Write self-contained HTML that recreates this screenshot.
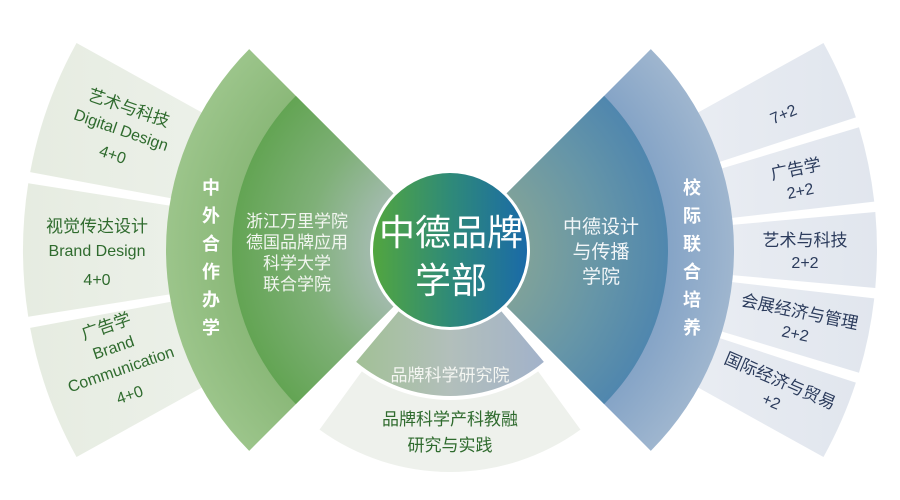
<!DOCTYPE html>
<html><head><meta charset="utf-8"><style>
html,body{margin:0;padding:0;background:#fff;width:900px;height:500px;overflow:hidden}
svg{display:block;font-family:"Liberation Sans","Noto Sans CJK SC",sans-serif}
</style></head><body>
<svg id="s" width="900" height="500" viewBox="0 0 900 500">
<defs>
<radialGradient id="lring" cx="450" cy="250" r="285" gradientUnits="userSpaceOnUse">
<stop offset="0.7" stop-color="#86b574"/><stop offset="1" stop-color="#9cc58b"/></radialGradient>
<radialGradient id="linner" cx="450" cy="250" r="220" gradientUnits="userSpaceOnUse">
<stop offset="0.35" stop-color="#a3bbae"/><stop offset="0.65" stop-color="#7fb078"/><stop offset="1" stop-color="#62a452"/></radialGradient>
<radialGradient id="rring" cx="450" cy="250" r="285" gradientUnits="userSpaceOnUse">
<stop offset="0.7" stop-color="#7e9fc4"/><stop offset="1" stop-color="#9fb6cf"/></radialGradient>
<radialGradient id="rinner" cx="450" cy="250" r="220" gradientUnits="userSpaceOnUse">
<stop offset="0.35" stop-color="#7fa29a"/><stop offset="0.7" stop-color="#6595a8"/><stop offset="1" stop-color="#4f86ae"/></radialGradient>
<linearGradient id="circ" x1="0" y1="0" x2="1" y2="0">
<stop offset="0" stop-color="#52a63f"/><stop offset="0.5" stop-color="#2f8a78"/><stop offset="1" stop-color="#1a6aa8"/></linearGradient>
<linearGradient id="b1" x1="0" y1="0" x2="1" y2="0">
<stop offset="0" stop-color="#a2c096"/><stop offset="0.5" stop-color="#b2bfbb"/><stop offset="1" stop-color="#a2b2ca"/></linearGradient>
<linearGradient id="lband" x1="0" y1="0" x2="1" y2="0">
<stop offset="0" stop-color="#e6ece1"/><stop offset="1" stop-color="#eef2ec"/></linearGradient>
<linearGradient id="rband" x1="0" y1="0" x2="1" y2="0">
<stop offset="0" stop-color="#eceff4"/><stop offset="1" stop-color="#e1e6ee"/></linearGradient>
</defs>
<g id="shapes"></g>

<g font-size="16" fill="#2f6b2e" text-anchor="middle">
<g transform="rotate(19 450 250)">
<text x="100" y="226" font-size="17">艺术与科技</text>
<text x="100" y="249">Digital Design</text>
<text x="100" y="275">4+0</text>
</g>
<g>
<text x="97" y="232" font-size="17">视觉传达设计</text>
<text x="97" y="256">Brand Design</text>
<text x="97" y="285">4+0</text>
</g>
<g transform="rotate(-19 450 250)">
<text x="100" y="216" font-size="17">广告学</text>
<text x="100" y="238">Brand</text>
<text x="100" y="261">Communication</text>
<text x="100" y="288">4+0</text>
</g>
</g>

<g font-size="16" fill="#2b3b5c" text-anchor="middle">
<g transform="rotate(-23.2 450 250)"><text x="810" y="262">7+2</text></g>
<g transform="rotate(-11.6 450 250)"><text x="805" y="246" font-size="17">广告学</text><text x="805" y="268">2+2</text></g>
<g><text x="805" y="246" font-size="17">艺术与科技</text><text x="805" y="268">2+2</text></g>
<g transform="rotate(11.6 450 250)"><text x="805" y="246" font-size="17">会展经济与管理</text><text x="805" y="268">2+2</text></g>
<g transform="rotate(23.2 450 250)"><text x="805" y="246" font-size="17">国际经济与贸易</text><text x="805" y="268">+2</text></g>
</g>

<g fill="#fff" font-weight="bold" font-size="18" text-anchor="middle">
<text x="211" y="194">中</text><text x="211" y="222">外</text><text x="211" y="250">合</text>
<text x="211" y="278">作</text><text x="211" y="306">办</text><text x="211" y="334">学</text>
<text x="692" y="194">校</text><text x="692" y="222">际</text><text x="692" y="250">联</text>
<text x="692" y="278">合</text><text x="692" y="306">培</text><text x="692" y="334">养</text>
</g>

<g fill="#f2f6f0" font-size="17" text-anchor="middle">
<text x="297" y="227">浙江万里学院</text>
<text x="297" y="248">德国品牌应用</text>
<text x="297" y="269">科学大学</text>
<text x="297" y="290">联合学院</text>
</g>
<g fill="#f2f6f8" font-size="19" text-anchor="middle">
<text x="601" y="233">中德设计</text>
<text x="601" y="258">与传播</text>
<text x="601" y="283">学院</text>
</g>
<g fill="#fff" font-size="36" text-anchor="middle">
<text x="451" y="245">中德品牌</text>
<text x="451" y="293">学部</text>
</g>
<g text-anchor="middle" font-size="17">
<text x="450" y="381" fill="#f4f6f2">品牌科学研究院</text>
<text x="450" y="425" fill="#2f6b2e">品牌科学产科教融</text>
<text x="450" y="451" fill="#2f6b2e">研究与实践</text>
</g>
</svg>
<script>
var cx=450,cy=250,g=document.getElementById('shapes');
function P(r,a){a=a*Math.PI/180;return [cx+r*Math.cos(a),cy+r*Math.sin(a)];}
function sec(r0,r1,a0,a1,fill){
 var p1=P(r1,a0),p2=P(r1,a1),d;
 var large=(a1-a0)>180?1:0;
 if(r0<=0){d='M'+cx+','+cy+'L'+p1+'A'+r1+','+r1+' 0 '+large+' 1 '+p2+'Z';}
 else{var p3=P(r0,a1),p4=P(r0,a0);
 d='M'+p4+'L'+p1+'A'+r1+','+r1+' 0 '+large+' 1 '+p2+'L'+p3+'A'+r0+','+r0+' 0 '+large+' 0 '+p4+'Z';}
 var e=document.createElementNS('http://www.w3.org/2000/svg','path');
 e.setAttribute('d',d);e.setAttribute('fill',fill);g.appendChild(e);}
var L=[[151,169.5],[171,189],[190.5,209]];
L.forEach(function(b){sec(200,427,b[0],b[1],'url(#lband)');});
var s=-29,w=58/5,gap=1.4;
for(var i=0;i<5;i++){sec(200,427,s+i*w+(i?gap/2:0),s+(i+1)*w-(i<4?gap/2:0),'url(#rband)');}
sec(0,284,135,225,'url(#lring)');
sec(0,218,135,225,'url(#linner)');
sec(0,284,-45,45,'url(#rring)');
sec(0,218,-45,45,'url(#rinner)');
sec(150,222,54,126,'#eef1ec');
sec(70,146,50,130,'url(#b1)');
var c=document.createElementNS('http://www.w3.org/2000/svg','circle');
c.setAttribute('cx',450);c.setAttribute('cy',250);c.setAttribute('r',80);c.setAttribute('fill','#fff');g.appendChild(c);
c=document.createElementNS('http://www.w3.org/2000/svg','circle');
c.setAttribute('cx',450);c.setAttribute('cy',250);c.setAttribute('r',77);c.setAttribute('fill','url(#circ)');g.appendChild(c);
</script>
</body></html>
